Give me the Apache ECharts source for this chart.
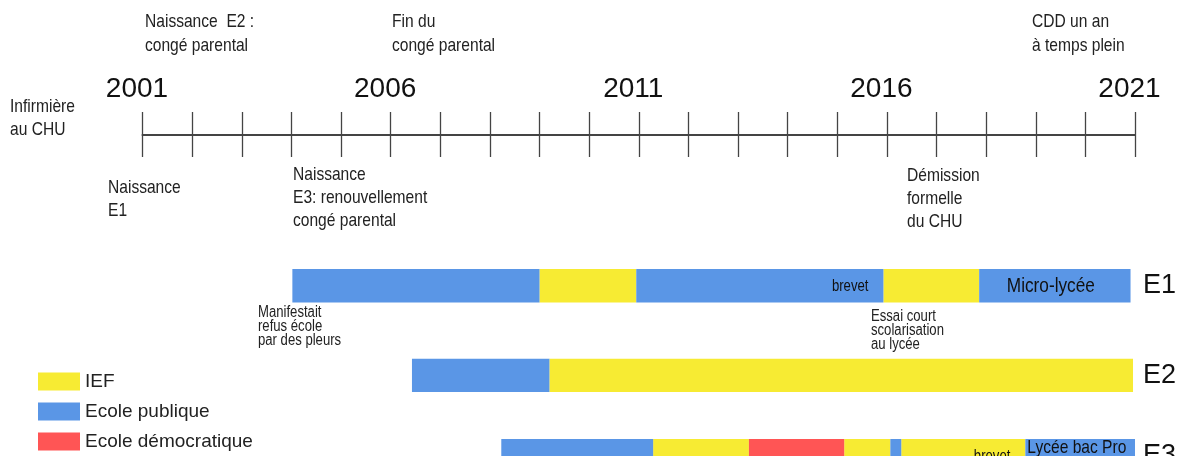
<!DOCTYPE html>
<html>
<head>
<meta charset="utf-8">
<script src="https://cdn.jsdelivr.net/npm/echarts@6/dist/echarts.min.js"></script>
<style>
  html, body { margin: 0; padding: 0; background: #fff; }
  #chart { width: 1178px; height: 456px; }
</style>
</head>
<body>
<div id="chart"></div>
<script>
// axe du temps
const yearMin = 2001
const yearMax = 2021
const yearLabels = [2001, 2006, 2011, 2016, 2021]
const rows = ['E1', 'E2', 'E3']

// segments : [ligne, début, fin]
const ief = [[0, 2009.0, 2010.95], [0, 2015.93, 2017.86], [1, 2009.2, 2020.96], [2, 2011.29, 2013.22], [2, 2015.14, 2016.07], [2, 2016.29, 2018.79]]
const publique = [[0, 2004.02, 2009.0], [0, 2010.95, 2015.93], [0, 2017.86, 2020.91], [1, 2006.43, 2009.2], [2, 2008.23, 2011.29], [2, 2016.07, 2016.29], [2, 2018.79, 2021.0]]
const democratique = [[2, 2013.22, 2015.14]]

// textes dans les barres : [ligne, début, fin, texte, placement]
const barTexts = [[0, 2010.95, 2015.93, 'brevet', 'right'], [0, 2017.86, 2020.91, 'Micro-lycée', 'center'], [2, 2016.29, 2018.79, 'brevet', 'right'], [2, 2018.79, 2021.0, 'Lycée bac Pro', 'top']]

const SANS = "'Liberation Sans', Arial, sans-serif"
const NARROW_X = 0.82 // pas de police étroite installée : on compresse

const types = [
  { name: 'IEF', color: '#F7EB33', segs: ief },
  { name: 'Ecole publique', color: '#5A96E6', segs: publique },
  { name: 'Ecole démocratique', color: '#FF5555', segs: democratique }
]
const rowTops = [269, 358.7, 439]
const barH = 33.4

const chart = echarts.init(document.getElementById('chart'))

function segRenderer(params, api) {
  const start = api.coord([api.value(1), api.value(0)])
  const end = api.coord([api.value(2), api.value(0)])
  const h = api.size([0, 1])[1]
  return {
    type: 'rect',
    shape: { x: start[0], y: start[1] - h / 2, width: end[0] - start[0], height: h },
    style: api.style()
  }
}

function makeTextRenderer(list) {
  return function (params, api) {
    const t = list[params.dataIndex]
    const start = api.coord([t[1], 0])
    const end = api.coord([t[2], 0])
    const h = api.size([0, 1])[1]
    let el
    if (t[4] === 'right') {
      el = { x: end[0] - 15, y: start[1] + 1, style: { text: t[3], font: '16px ' + SANS, fill: '#111', align: 'right', verticalAlign: 'middle' } }
    } else if (t[4] === 'center') {
      el = { x: (start[0] + end[0]) / 2 - 4, y: start[1] + 1, style: { text: t[3], font: '21px ' + SANS, fill: '#111', align: 'center', verticalAlign: 'middle' } }
    } else {
      el = { x: start[0] + 2, y: start[1] - h / 2 - 1, style: { text: t[3], font: '19px ' + SANS, fill: '#111', align: 'left', verticalAlign: 'top' } }
    }
    el.type = 'text'
    el.scaleX = NARROW_X
    return el
  }
}

function note(x, y, text, size, lh) {
  return {
    type: 'text', x: x, y: y, scaleX: NARROW_X,
    style: { text: text, font: size + 'px ' + SANS, fill: '#222', lineHeight: lh, verticalAlign: 'top' }
  }
}

// une grille pour la frise, puis une par enfant
const grids = [{ left: 142.5, right: 43, top: 135, height: 22, outerBoundsMode: 'none' }]
const xAxes = [{
  gridIndex: 0, type: 'value', min: yearMin, max: yearMax, interval: 1, position: 'top',
  axisLine: { show: true, onZero: false, lineStyle: { color: '#444', width: 2 } },
  axisTick: { show: true, length: 23, lineStyle: { color: '#444', width: 1.3 } },
  splitLine: { show: true, lineStyle: { color: '#444', width: 1.3 } },
  axisLabel: {
    margin: 32, fontSize: 28, fontFamily: SANS, color: '#111', padding: [0, 11, 0, 0],
    formatter: (v) => (yearLabels.includes(v) ? String(v) : '')
  }
}]
const yAxes = [{ gridIndex: 0, type: 'value', show: false }]
const series = []

rows.forEach((row, i) => {
  const g = i + 1
  grids.push({ left: 142.5, right: 43, top: rowTops[i], height: barH, outerBoundsMode: 'none' })
  xAxes.push({ gridIndex: g, type: 'value', min: yearMin, max: yearMax, show: false })
  yAxes.push({
    gridIndex: g, type: 'category', data: [row], position: 'right',
    axisLine: { show: false }, axisTick: { show: false }, splitLine: { show: false },
    axisLabel: { margin: 8, fontSize: 27, fontFamily: SANS, color: '#111', align: 'left' }
  })
  types.forEach((tp) => {
    const data = tp.segs.filter((s) => s[0] === i).map((s) => [0, s[1], s[2]])
    series.push({
      name: tp.name, type: 'custom', xAxisIndex: g, yAxisIndex: g,
      itemStyle: { color: tp.color }, renderItem: segRenderer, data: data, encode: { x: [1, 2], y: 0 }
    })
  })
  const texts = barTexts.filter((t) => t[0] === i)
  series.push({
    name: 'textes', type: 'custom', xAxisIndex: g, yAxisIndex: g, z: 5,
    renderItem: makeTextRenderer(texts), data: texts.map((t) => [0, t[1], t[2]]), encode: { x: [1, 2], y: 0 }
  })
})

chart.setOption({
  animation: false,
  grid: grids,
  xAxis: xAxes,
  yAxis: yAxes,
  legend: {
    orient: 'vertical', left: 38, top: 372, height: 110, padding: 0, itemWidth: 42, itemHeight: 18, itemGap: 11,
    icon: 'rect', selectedMode: false,
    textStyle: { fontSize: 19, lineHeight: 18, fontFamily: SANS, color: '#222' },
    data: types.map((t) => t.name)
  },
  series: series,
  graphic: [
    note(145, 10, 'Naissance  E2 :\ncongé parental', 19, 24),
    note(392, 10, 'Fin du\ncongé parental', 19, 24),
    note(1032, 10, 'CDD un an\nà temps plein', 19, 24),
    note(10, 95, 'Infirmière\nau CHU', 19, 23),
    note(108, 176, 'Naissance\nE1', 19, 23),
    note(293, 163, 'Naissance\nE3: renouvellement\ncongé parental', 19, 23),
    note(907, 164, 'Démission\nformelle\ndu CHU', 19, 23),
    note(258, 306, 'Manifestait\nrefus école\npar des pleurs', 16, 14),
    note(871, 310, 'Essai court\nscolarisation\nau lycée', 16, 14)
  ]
})
</script>
</body>
</html>
